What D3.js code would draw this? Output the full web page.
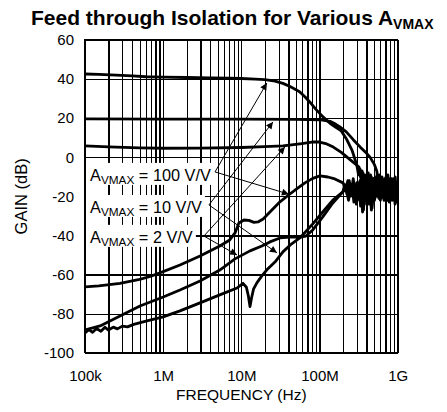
<!DOCTYPE html>
<html><head><meta charset="utf-8">
<script src="https://cdn.jsdelivr.net/npm/d3@7/dist/d3.min.js"></script>
<style>
html,body{margin:0;padding:0;background:#fff;}
svg{display:block;font-family:Arial,"Liberation Sans",sans-serif;}
</style></head>
<body>
<svg id="chart" width="447" height="412"></svg>
<script>
// ---------------- data ----------------
const freqTicks = [1e5, 1e6, 1e7, 1e8, 1e9];
const freqTickLabels = ["100k", "1M", "10M", "100M", "1G"];
const gainTicks = [60, 40, 20, 0, -20, -40, -60, -80, -100];
const gainTickLabels = ["60", "40", "20", "0", "-20", "-40", "-60", "-80", "-100"];

// Gain curves [frequency Hz, gain dB]
const gain100 = [[1e5,42.6],[1.5e5,42.4],[2.5e5,42.0],[4e5,41.6],[6e5,41.2],[1e6,41.0],[2e6,40.8],[4e6,40.6],[7e6,40.5],[1e7,40.3],[1.5e7,40.0],[2e7,39.7],[2.7e7,39.0],[3.4e7,37.8],[4.2e7,36.2],[5e7,34.6],[5.6e7,33.4],[6.5e7,31.0],[7.5e7,28.3],[9e7,24.5],[1.1e8,20.8],[1.36e8,17.4],[1.6e8,15.5],[1.9e8,13.5],[2.2e8,9.5],[2.6e8,3.7],[3.0e8,-4],[3.15e8,-9],[3.3e8,-6],[3.45e8,-14],[3.6e8,-8],[3.75e8,-17],[3.9e8,-10],[4.05e8,-15],[4.2e8,-8],[4.4e8,-16],[4.6e8,-10],[4.8e8,-18],[5.0e8,-11],[5.2e8,-16],[5.45e8,-9],[5.7e8,-17],[5.95e8,-11],[6.2e8,-18],[6.5e8,-12],[6.8e8,-17],[7.1e8,-10],[7.4e8,-19],[7.7e8,-12],[8.0e8,-16],[8.3e8,-11],[8.6e8,-18],[8.9e8,-12],[9.2e8,-17],[9.5e8,-13],[9.8e8,-19],[1e9,-16]];
const gain10 = [[1e5,19.6],[1e6,19.5],[1e7,19.5],[5e7,19.4],[1e8,19.2],[1.36e8,18.4],[1.6e8,17.0],[1.82e8,15.5],[2.2e8,13.0],[2.7e8,9.0],[3.3e8,5.3],[4e8,2.0],[4.4e8,0.2],[5e8,-3.5],[5.4e8,-7],[5.6e8,-12],[5.8e8,-9],[6.0e8,-16],[6.3e8,-10],[6.6e8,-18],[6.9e8,-11],[7.2e8,-15],[7.5e8,-9],[7.8e8,-17],[8.1e8,-11],[8.4e8,-19],[8.7e8,-12],[9.0e8,-16],[9.3e8,-10],[9.6e8,-18],[1e9,-14]];
const gain2 = [[1e5,5.8],[2e5,5.3],[5e5,4.8],[1e6,4.6],[3e6,4.7],[1e7,5.0],[2e7,5.4],[3.4e7,5.8],[5.6e7,6.9],[8e7,7.8],[1e8,7.8],[1.2e8,7.0],[1.5e8,5.2],[1.9e8,2.5],[2.5e8,-1.5],[3.2e8,-5],[3.35e8,-10],[3.5e8,-7],[3.65e8,-13],[3.8e8,-9],[3.95e8,-16],[4.1e8,-10],[4.3e8,-14],[4.5e8,-9],[4.7e8,-17],[4.9e8,-11],[5.1e8,-15],[5.35e8,-10],[5.6e8,-18],[5.85e8,-12],[6.1e8,-16],[6.4e8,-11],[6.7e8,-19],[7.0e8,-13],[7.3e8,-17],[7.6e8,-12],[7.9e8,-20],[8.2e8,-13],[8.5e8,-17],[8.8e8,-11],[9.1e8,-18],[9.4e8,-13],[9.7e8,-21],[1e9,-18]];

// Feed-through isolation curves
const isoA = [[1e5,-66.3],[1.5e5,-65.8],[2.8e5,-64.5],[5e5,-62.5],[6.8e5,-61.0],[1e6,-58.5],[1.64e6,-55.1],[2.96e6,-50.5],[5.3e6,-45.4],[7.1e6,-42.3],[8.3e6,-38.7],[9.3e6,-33.6],[1.08e7,-32.1],[1.25e7,-32.3],[1.45e7,-33.3],[1.63e7,-33.1],[1.9e7,-31.6],[2.32e7,-28.0],[3.12e7,-22.8],[4.18e7,-18.8],[5.1e7,-16.2],[6.5e7,-13.1],[8.2e7,-10.8],[1.01e8,-9.5],[1.28e8,-10.1],[1.57e8,-11.1],[2e8,-13.1],[2.15e8,-17],[2.3e8,-12],[2.45e8,-20],[2.6e8,-14],[2.75e8,-23],[2.9e8,-15],[3.05e8,-21],[3.2e8,-13],[3.35e8,-25],[3.5e8,-17],[3.65e8,-27],[3.8e8,-16],[3.95e8,-22],[4.1e8,-14],[4.3e8,-24],[4.5e8,-15],[4.7e8,-26],[4.9e8,-17],[5.1e8,-21],[5.35e8,-13],[5.6e8,-19],[5.85e8,-12],[6.1e8,-20],[6.4e8,-14],[6.7e8,-22],[7.0e8,-15],[7.3e8,-19],[7.6e8,-13],[7.9e8,-21],[8.2e8,-15],[8.5e8,-22],[8.8e8,-14],[9.1e8,-20],[9.4e8,-16],[9.7e8,-23],[1e9,-19]];
const isoB = [[1e5,-88.3],[1.56e5,-86.3],[2.8e5,-81.2],[5.05e5,-76.1],[1e6,-71.5],[1.64e6,-67.9],[2.96e6,-63.3],[5.3e6,-57.7],[8.3e6,-52.0],[1.29e7,-47.9],[1.83e7,-45.4],[2.32e7,-43.3],[3.12e7,-41.3],[4.18e7,-40.8],[5.6e7,-40.8],[6.7e7,-40.3],[8.2e7,-37.2],[1.1e8,-30.5],[1.48e8,-23.4],[1.99e8,-17.7],[2.1e8,-14],[2.25e8,-19],[2.4e8,-12],[2.55e8,-18],[2.7e8,-11],[2.85e8,-19],[3.0e8,-13],[3.15e8,-21],[3.3e8,-12],[3.45e8,-20],[3.6e8,-14],[3.75e8,-24],[3.9e8,-13],[4.05e8,-20],[4.2e8,-12],[4.4e8,-21],[4.6e8,-14],[4.8e8,-19],[5.0e8,-11],[5.25e8,-18],[5.5e8,-13],[5.75e8,-21],[6.0e8,-14],[6.25e8,-19],[6.55e8,-12],[6.85e8,-20],[7.15e8,-14],[7.45e8,-22],[7.75e8,-15],[8.05e8,-19],[8.35e8,-12],[8.65e8,-21],[8.95e8,-14],[9.25e8,-24],[9.55e8,-15],[9.85e8,-21],[1e9,-22]];
const isoC = [[1e5,-89.9],[1.12e5,-88.2],[1.25e5,-89.6],[1.4e5,-87.6],[1.6e5,-89.0],[1.8e5,-87.0],[2.0e5,-88.4],[2.3e5,-86.9],[2.6e5,-87.8],[3.0e5,-86.4],[3.5e5,-86.8],[4.2e5,-85.5],[6.2e5,-83.7],[1e6,-81.7],[1.64e6,-78.6],[2.96e6,-74.5],[5.3e6,-70.4],[8.8e6,-66.9],[1.05e7,-64.5],[1.16e7,-66.5],[1.23e7,-71],[1.29e7,-76.4],[1.35e7,-72],[1.43e7,-67.5],[1.58e7,-64.3],[1.83e7,-60.7],[2.12e7,-57.6],[2.69e7,-53.6],[3.4e7,-48.4],[4.4e7,-44.3],[5.6e7,-41.3],[8.2e7,-34.1],[1.1e8,-28],[1.48e8,-21.9],[1.99e8,-17.7],[2.2e8,-16],[2.35e8,-22],[2.5e8,-15],[2.65e8,-20],[2.8e8,-14],[2.95e8,-24],[3.1e8,-16],[3.25e8,-22],[3.4e8,-15],[3.55e8,-28],[3.7e8,-17],[3.85e8,-21],[4.0e8,-14],[4.2e8,-23],[4.4e8,-15],[4.6e8,-27],[4.85e8,-16],[5.05e8,-22],[5.3e8,-14],[5.5e8,-20],[5.8e8,-13],[6.0e8,-22],[6.3e8,-15],[6.6e8,-21],[6.9e8,-13],[7.2e8,-20],[7.5e8,-14],[7.8e8,-23],[8.1e8,-16],[8.4e8,-20],[8.7e8,-13],[9.0e8,-22],[9.3e8,-15],[9.6e8,-21],[1e9,-20]];

const allSeries = [gain100, gain10, gain2, isoA, isoB, isoC];

// Annotation labels: gain value text, label anchor (Hz, dB), arrow origin, arrow targets
const labelValues = ["100 V/V", "10 V/V", "2 V/V"];
const labelAnchors = [[1.16e5,-12.1],[1.16e5,-28.5],[1.16e5,-43.8]];
const arrowOrigins = [[4.6e6,-7.5],[3.85e6,-24.4],[3.32e6,-40.3]];
const arrowTargets = [
  [[2.12e7,38.0],[4.06e7,-18.9]],
  [[2.54e7,18.1],[2.85e7,-48.9]],
  [[3.61e7,5.3],[8.79e6,-50.0]]
];

// ---------------- drawing ----------------
const FONT = "Arial,'Liberation Sans',sans-serif";
const svg = d3.select("#chart");
const L = 85, R = 397.7, T = 40, B = 352.7;
const x = d3.scaleLog().domain([1e5, 1e9]).range([L, R]);
const y = d3.scaleLinear().domain([-100, 60]).range([B, T]);

// minor/major grid frequencies
const gridFreqs = [];
for (let d = 1e5; d < 1e9; d *= 10) for (let m = 1; m <= 9; m++) gridFreqs.push(d * m);
gridFreqs.push(1e9);

const gx = svg.append("g").attr("transform", `translate(0,${B})`)
  .call(d3.axisBottom(x).tickValues(gridFreqs).tickSize(-(B - T)).tickFormat(""));
gx.select(".domain").remove();
gx.selectAll("line").attr("stroke", "#000").attr("stroke-width", 1.2).attr("shape-rendering", "crispEdges");

const gy = svg.append("g").attr("transform", `translate(${L},0)`)
  .call(d3.axisLeft(y).tickValues(gainTicks).tickSize(-(R - L)).tickFormat(""));
gy.select(".domain").remove();
gy.selectAll("line").attr("stroke", "#000").attr("stroke-width", 1.2).attr("shape-rendering", "crispEdges");

// tick labels
const xl = svg.append("g").attr("transform", `translate(0,${B})`)
  .call(d3.axisBottom(x).tickValues(freqTicks).tickSize(0).tickPadding(18)
    .tickFormat((d, i) => freqTickLabels[i]));
xl.select(".domain").remove();
xl.selectAll("text").attr("font-size", 15).attr("font-family", FONT).attr("fill", "#000");

const yl = svg.append("g").attr("transform", `translate(${L},0)`)
  .call(d3.axisLeft(y).tickValues(gainTicks).tickSize(0).tickPadding(11)
    .tickFormat((d, i) => gainTickLabels[i]));
yl.select(".domain").remove();
yl.selectAll("text").attr("font-size", 15).attr("font-family", FONT).attr("fill", "#000");

// axis titles
svg.append("text").attr("x", (L + R) / 2).attr("y", 400).attr("text-anchor", "middle")
  .attr("font-size", 15.5).text("FREQUENCY (Hz)");
svg.append("text").attr("transform", `translate(27,${(T + B) / 2}) rotate(-90)`)
  .attr("text-anchor", "middle").attr("font-size", 16.5).text("GAIN (dB)");

// title
const title = svg.append("text").attr("x", 31).attr("y", 25).attr("font-size", 21).attr("font-weight", "bold");
title.append("tspan").text("Feed through Isolation for Various A");
title.append("tspan").attr("font-size", 14).attr("dy", 4).text("VMAX");

// labels with white boxes
const labelG = svg.append("g");
labelValues.forEach((v, i) => {
  const g = labelG.append("g");
  const t = g.append("text").attr("x", x(labelAnchors[i][0])).attr("y", y(labelAnchors[i][1]))
    .attr("font-size", 16.3);
  t.append("tspan").text("A");
  t.append("tspan").attr("font-size", 11.8).attr("dy", 3).text("VMAX");
  t.append("tspan").attr("dy", -3).text(" = " + v);
  const bb = t.node().getBBox();
  g.insert("rect", "text").attr("x", L + 1).attr("y", y(labelAnchors[i][1]) - 18)
    .attr("width", bb.x + bb.width + 3 - (L + 1)).attr("height", 22).attr("fill", "#fff");
});

// arrows
svg.append("defs").append("marker").attr("id", "ah").attr("viewBox", "0 0 10 10")
  .attr("refX", 10).attr("refY", 5).attr("markerWidth", 10).attr("markerHeight", 7)
  .attr("markerUnits", "userSpaceOnUse").attr("orient", "auto")
  .append("path").attr("d", "M0,0 L10,5 L0,10 Z").attr("fill", "#000");
arrowOrigins.forEach((o, i) => {
  arrowTargets[i].forEach(tg => {
    svg.append("line").attr("x1", x(o[0])).attr("y1", y(o[1]))
      .attr("x2", x(tg[0])).attr("y2", y(tg[1]))
      .attr("stroke", "#000").attr("stroke-width", 1).attr("marker-end", "url(#ah)");
  });
});

// curves
svg.append("clipPath").attr("id", "clip").append("rect")
  .attr("x", L).attr("y", T).attr("width", R - L).attr("height", B - T);
const line = d3.line().x(d => x(d[0])).y(d => y(d[1]));
svg.append("g").attr("clip-path", "url(#clip)").selectAll("path").data(allSeries).join("path")
  .attr("d", line).attr("fill", "none").attr("stroke", "#000").attr("stroke-width", 2.8)
  .attr("stroke-linejoin", "round").attr("stroke-linecap", "round");

// frame
svg.append("rect").attr("x", L).attr("y", T).attr("width", R - L).attr("height", B - T)
  .attr("fill", "none").attr("stroke", "#000").attr("stroke-width", 1.2).attr("shape-rendering", "crispEdges");
</script>
</body></html>
